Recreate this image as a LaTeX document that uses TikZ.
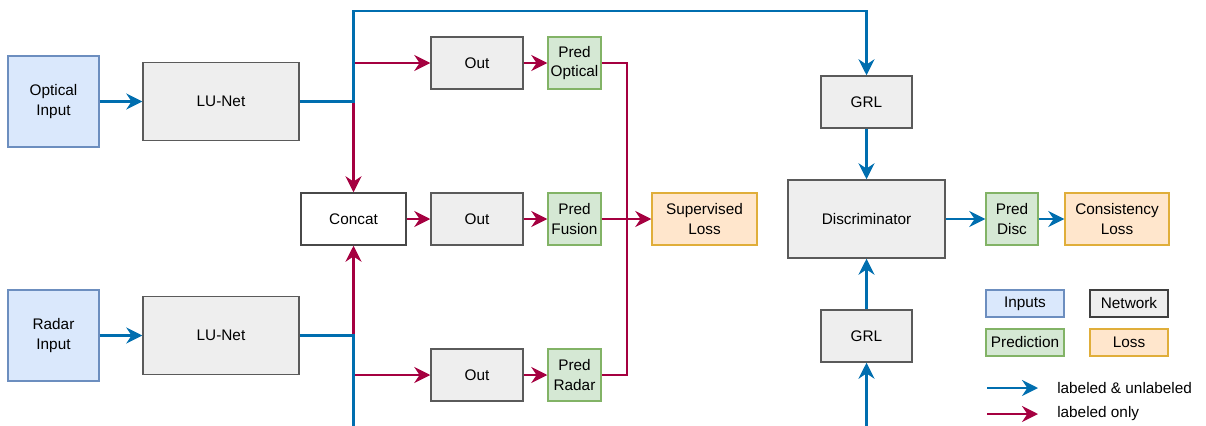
\documentclass[tikz,border=0pt]{standalone}
\usepackage{fontspec}
\setmainfont{Liberation Sans}
\usetikzlibrary{arrows.meta}

\definecolor{flowblue}{HTML}{006EAF}
\definecolor{flowred}{HTML}{A50040}
\definecolor{infill}{HTML}{DAE8FC}
\definecolor{indraw}{HTML}{6C8EBF}
\definecolor{netfill}{HTML}{EEEEEE}
\definecolor{netdraw}{HTML}{5A5A5A}
\definecolor{predfill}{HTML}{D5E8D4}
\definecolor{preddraw}{HTML}{82B366}
\definecolor{lossfill}{HTML}{FFE6CC}
\definecolor{lossdraw}{HTML}{E0AE3A}

\tikzset{
  sz/.style 2 args={minimum width=#1*0.75pt, minimum height=#2*0.75pt},
  box/.style={draw, line width=1.1pt, inner sep=0pt, align=center,
    font=\fontsize{11.5}{14.5}\selectfont},
  inbox/.style={box, fill=infill, draw=indraw},
  netbox/.style={box, fill=netfill, draw=netdraw},
  plainbox/.style={box, fill=white, draw=netdraw!80!black},
  predbox/.style={box, fill=predfill, draw=preddraw},
  lossbox/.style={box, fill=lossfill, draw=lossdraw},
  tip/.style={-{Stealth[length=12pt, width=12pt, inset=4pt]}},
  blueline/.style={draw=flowblue, line width=2pt},
  redline/.style={draw=flowred, line width=2pt},
  bluearrow/.style={blueline, tip},
  redarrow/.style={redline, tip},
  legtext/.style={anchor=west, inner sep=0pt, font=\fontsize{11.5}{14.5}\selectfont},
}

\begin{document}
\begin{tikzpicture}[x=0.75pt, y=-0.75pt]
\useasboundingbox (0,0) rectangle (1206,425);

% inputs and encoders
\node[inbox, sz={91}{91}]   (oin) at (53.5,101.5) {Optical\\Input};
\node[netbox, sz={156}{78}] (lu1) at (221,101.5) {LU-Net};
\node[inbox, sz={91}{91}]   (rin) at (53.5,335.5) {Radar\\Input};
\node[netbox, sz={156}{78}] (lu2) at (221,335.5) {LU-Net};

% fusion and output heads
\node[plainbox, sz={105}{52}] (cat) at (353.5,219) {Concat};
\node[netbox, sz={92}{52}] (out1) at (477,63)  {Out};
\node[netbox, sz={92}{52}] (out2) at (477,219) {Out};
\node[netbox, sz={92}{52}] (out3) at (477,375) {Out};
\node[predbox, sz={53}{52}] (po) at (574.5,63)  {Pred\\Optical};
\node[predbox, sz={53}{52}] (pf) at (574.5,219) {Pred\\Fusion};
\node[predbox, sz={53}{52}] (pr) at (574.5,375) {Pred\\Radar};
\node[lossbox, sz={105}{52}] (sl) at (704.5,219) {Supervised\\Loss};

% domain branch
\node[netbox, sz={91}{52}]  (grl1) at (866.5,102) {GRL};
\node[netbox, sz={157}{78}] (disc) at (866.5,219) {Discriminator};
\node[netbox, sz={91}{52}]  (grl2) at (866.5,336) {GRL};
\node[predbox, sz={52}{52}] (pd) at (1012,219) {Pred\\Disc};
\node[lossbox, sz={104}{52}] (cl) at (1117,219) {Consistency\\Loss};

% legend
\node[inbox, sz={78}{27}]   (li) at (1025,303.5) {Inputs};
\node[netbox, sz={78}{27}, draw=netdraw!70!black]  (ln) at (1129,303.5) {Network};
\node[predbox, sz={78}{27}] (lp) at (1025,342.5) {Prediction};
\node[lossbox, sz={78}{27}] (ll) at (1129,342.5) {Loss};
\coordinate (la1) at (987,388);
\coordinate (la2) at (1038,388);
\coordinate (lb1) at (987,414);
\coordinate (lb2) at (1038,414);
\node[legtext] (lta) at (1057,388) {labeled \& unlabeled};
\node[legtext] (ltb) at (1057,414) {labeled only};

% routing points
\coordinate (j1) at (353.5,101.5);
\coordinate (t1) at (353.5,11);
\coordinate (t2) at (866.5,11);
\coordinate (r1) at (353.5,63);
\coordinate (jb) at (353.5,335.5);
\coordinate (r3) at (353.5,375);
\coordinate (b1) at (353.5,427);
\coordinate (bb) at (866.5,427);
\coordinate (m1) at (627,63);
\coordinate (m3) at (627,375);

% labeled-only paths
\draw[redarrow] (r1) -- (out1.west);
\draw[redarrow] (j1) -- (cat.north);
\draw[redarrow] (jb) -- (cat.south);
\draw[redarrow] (r3) -- (out3.west);
\draw[redarrow] (cat) -- (out2);
\draw[redarrow] (out1) -- (po);
\draw[redarrow] (out2) -- (pf);
\draw[redarrow] (out3) -- (pr);
\draw[redline] (po.east) -- (m1) -- (m3) -- (pr.east);
\draw[redarrow] (pf) -- (sl);

% labeled & unlabeled paths
\draw[bluearrow] (oin) -- (lu1);
\draw[bluearrow] (rin) -- (lu2);
\draw[bluearrow] (lu1.east) -- (j1) -- (t1) -- (t2) -- (grl1.north);
\draw[blueline] (lu2.east) -- (jb) -- (b1);
\draw[bluearrow] (grl1) -- (disc);
\draw[bluearrow] (bb) -- (grl2.south);
\draw[bluearrow] (grl2) -- (disc);
\draw[bluearrow] (disc) -- (pd);
\draw[bluearrow] (pd) -- (cl);

% legend arrows
\draw[bluearrow] (la1) -- (la2);
\draw[redarrow] (lb1) -- (lb2);
\end{tikzpicture}
\end{document}
